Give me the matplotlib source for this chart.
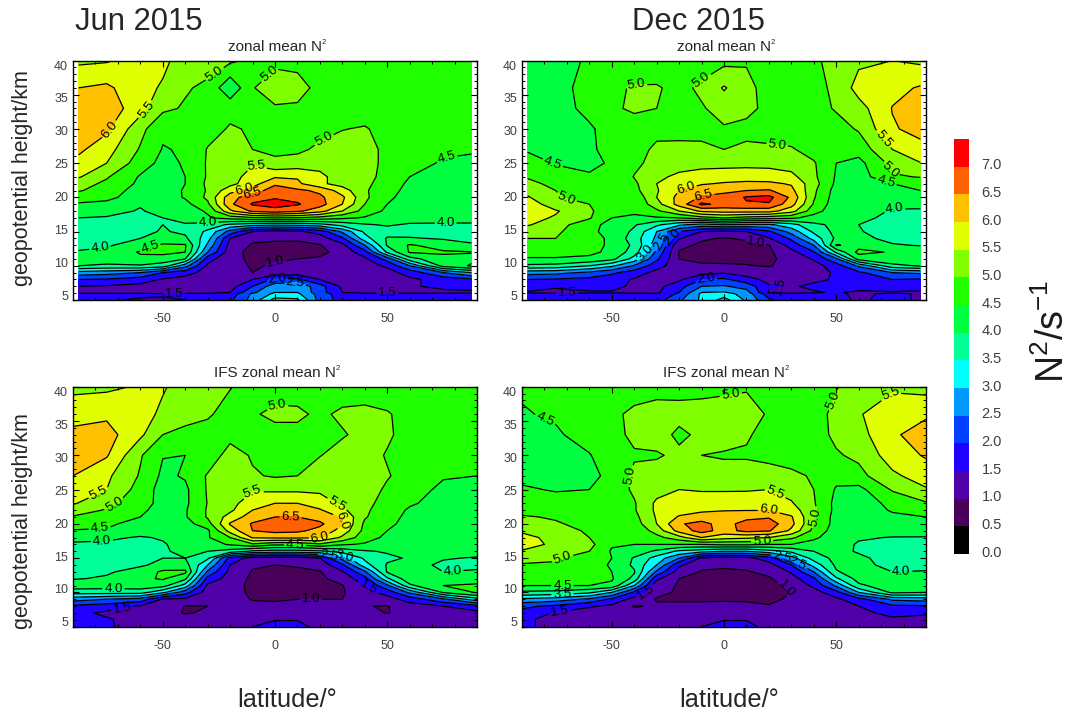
import numpy as np
import matplotlib
matplotlib.use('Agg')
import matplotlib.pyplot as plt
from matplotlib.colors import ListedColormap, BoundaryNorm
from matplotlib.transforms import ScaledTranslation

plt.rcParams['font.family'] = ['Liberation Sans', 'DejaVu Sans']
plt.rcParams['mathtext.fontset'] = 'custom'
plt.rcParams['mathtext.rm'] = 'Liberation Sans'
plt.rcParams['mathtext.default'] = 'rm'
plt.rcParams['axes.unicode_minus'] = False

# grid the fields are read on
lat_obs = [-87.5, -75, -60, -50, -40, -30, -20, -10, 0, 10, 20, 30, 40, 50, 60, 75, 87.5]
lat_ifs = [-90, -75, -60, -50, -40, -30, -20, -10, 0, 10, 20, 30, 40, 50, 60, 75, 90]
heights = [40, 36, 33, 30, 27, 25, 23, 22, 21, 20, 19, 18, 17, 16, 15, 14, 13, 12, 11, 10, 9, 8, 7, 6.1, 5.9, 5]

levels = [0, 0.5, 1, 1.5, 2, 2.5, 3, 3.5, 4, 4.5, 5, 5.5, 6, 6.5, 7, 7.5]
line_levels = [1, 1.5, 2, 2.5, 3, 3.5, 4, 4.5, 5, 5.5, 6, 6.5, 7]
colors = ['#000000', '#48005a', '#5000a8', '#2000ff', '#0040ff', '#0098ff', '#00ffff', '#00ff98',
          '#00ff40', '#20ff00', '#80ff00', '#e0ff00', '#ffc000', '#ff6000', '#ff0000']

jun_obs = [
    [5.4, 5.45, 5.7, 5.6, 5.3, 5.2, 5.1, 4.9, 4.8, 4.8, 4.7, 4.7, 4.6, 4.6, 4.6, 4.6, 4.6],
    [6.0, 6.1, 5.65, 5.45, 5.05, 4.9, 4.1, 4.95, 5.45, 5.25, 4.8, 4.7, 4.7, 4.6, 4.6, 4.6, 4.6],
    [6.3, 6.3, 5.7, 5.1, 4.95, 4.85, 4.85, 4.8, 4.9, 4.9, 4.75, 4.75, 4.7, 4.65, 4.6, 4.6, 4.6],
    [6.4, 6.1, 5.15, 4.6, 4.6, 4.8, 5.05, 4.95, 4.8, 4.8, 4.85, 4.98, 5.05, 4.8, 4.65, 4.55, 4.55],
    [6.1, 5.7, 4.95, 4.47, 4.55, 5.03, 5.2, 5.0, 4.9, 4.9, 5.1, 5.25, 5.15, 4.9, 4.7, 4.55, 4.55],
    [5.85, 5.5, 4.75, 4.35, 4.55, 5.05, 5.3, 5.45, 5.1, 5.2, 5.35, 5.25, 5.15, 4.9, 4.6, 4.47, 4.4],
    [5.55, 5.05, 4.45, 4.3, 4.5, 5.05, 5.3, 5.7, 5.95, 5.95, 5.6, 5.3, 5.15, 4.85, 4.5, 4.3, 4.3],
    [5.2, 4.9, 4.4, 4.3, 4.5, 5.1, 5.35, 5.8, 6.4, 6.1, 5.6, 5.3, 5.1, 4.8, 4.4, 4.25, 4.25],
    [5.05, 4.75, 4.3, 4.25, 4.55, 5.05, 5.8, 6.2, 6.8, 6.6, 6.4, 5.75, 5.05, 4.75, 4.3, 4.2, 4.2],
    [4.7, 4.6, 4.3, 4.2, 4.55, 5.1, 6.3, 6.8, 6.95, 6.85, 6.6, 6.1, 5.1, 4.6, 4.3, 4.2, 4.2],
    [4.45, 4.4, 4.05, 4.2, 4.35, 4.9, 6.4, 7.05, 7.2, 7.05, 6.7, 6.0, 5.0, 4.5, 4.25, 4.15, 4.15],
    [4.2, 4.2, 3.95, 4.2, 4.3, 4.55, 5.9, 6.6, 6.8, 6.6, 6.2, 5.5, 4.8, 4.4, 4.2, 4.15, 4.15],
    [4.0, 3.95, 3.8, 4.0, 4.2, 4.45, 4.7, 4.9, 5.0, 4.95, 4.8, 4.6, 4.45, 4.3, 4.2, 4.15, 4.15],
    [3.8, 3.8, 3.7, 4.0, 3.95, 3.8, 3.4, 3.2, 3.1, 3.15, 3.3, 3.7, 3.95, 4.05, 3.95, 3.95, 3.95],
    [3.75, 3.75, 3.85, 4.05, 3.9, 3.4, 2.3, 1.5, 1.3, 1.4, 1.7, 2.6, 3.6, 3.8, 3.75, 3.75, 3.8],
    [3.8, 3.85, 4.0, 4.1, 4.1, 3.2, 1.5, 1.1, 1.05, 1.05, 1.25, 1.9, 3.3, 4.05, 4.05, 3.95, 3.8],
    [3.85, 3.95, 4.2, 4.6, 4.55, 2.9, 1.3, 0.95, 0.93, 0.92, 0.97, 1.35, 2.5, 4.05, 4.55, 4.3, 4.1],
    [4.05, 4.1, 4.55, 4.65, 4.5, 2.5, 1.2, 0.85, 0.9, 0.9, 0.9, 1.15, 1.8, 3.6, 4.55, 4.55, 4.52],
    [4.2, 4.3, 4.4, 4.25, 4.0, 1.7, 1.15, 0.9, 0.95, 1.0, 1.05, 1.15, 1.4, 2.2, 3.8, 4.4, 4.4],
    [4.0, 3.9, 3.95, 3.8, 2.7, 1.4, 1.2, 0.95, 1.05, 1.1, 1.1, 1.2, 1.25, 1.6, 2.5, 4.2, 4.55],
    [2.8, 2.7, 2.5, 2.0, 1.7, 1.3, 1.2, 1.0, 1.15, 1.2, 1.2, 1.2, 1.25, 1.3, 1.7, 2.5, 3.0],
    [2.0, 1.95, 1.75, 1.45, 1.3, 1.25, 1.2, 1.5, 2.1, 2.1, 1.5, 1.25, 1.25, 1.25, 1.4, 1.7, 1.9],
    [1.5, 1.45, 1.35, 1.3, 1.2, 1.2, 1.3, 2.0, 2.8, 2.9, 2.2, 1.4, 1.2, 1.3, 1.45, 1.6, 1.7],
    [1.35, 1.35, 1.3, 1.3, 1.3, 1.35, 1.5, 2.4, 3.0, 3.0, 2.2, 1.5, 1.4, 1.4, 1.4, 1.4, 1.4],
    [1.6, 1.6, 1.6, 1.55, 1.6, 1.6, 1.7, 2.6, 3.1, 3.1, 2.3, 1.7, 1.6, 1.6, 1.6, 1.6, 1.65],
    [1.6, 1.55, 1.45, 1.45, 1.5, 1.6, 1.9, 2.7, 3.7, 3.6, 2.3, 1.8, 1.6, 1.6, 1.65, 1.5, 1.7],
]

dec_obs = [
    [4.3, 4.35, 4.55, 4.6, 4.6, 4.65, 4.7, 4.75, 4.85, 4.95, 4.85, 4.8, 4.95, 5.1, 5.4, 5.5, 5.4],
    [4.3, 4.4, 4.6, 4.9, 5.05, 5.05, 4.85, 5.1, 5.55, 5.15, 4.8, 4.7, 4.85, 5.1, 5.7, 5.85, 6.05],
    [4.3, 4.35, 4.6, 4.95, 5.05, 5.0, 4.85, 4.95, 5.2, 5.15, 4.85, 4.7, 4.8, 5.05, 5.3, 6.02, 6.2],
    [4.25, 4.3, 4.45, 4.65, 4.85, 4.85, 4.8, 4.85, 4.95, 4.85, 4.75, 4.7, 4.7, 4.8, 5.05, 5.95, 6.15],
    [4.45, 4.35, 4.45, 4.6, 4.8, 5.1, 5.15, 5.1, 5.0, 5.1, 5.1, 5.05, 4.8, 4.6, 4.7, 5.5, 5.85],
    [4.7, 4.47, 4.4, 4.55, 4.9, 5.15, 5.3, 5.35, 5.35, 5.35, 5.35, 5.25, 5.05, 4.5, 4.35, 5.15, 5.48],
    [4.95, 4.7, 4.55, 4.6, 5.02, 5.4, 5.6, 5.7, 5.75, 5.8, 5.75, 5.65, 5.1, 4.45, 4.25, 4.95, 5.02],
    [5.15, 4.85, 4.6, 4.6, 4.9, 5.5, 5.8, 5.95, 6.05, 6.1, 6.1, 5.95, 5.2, 4.4, 4.2, 4.5, 4.75],
    [5.35, 5.0, 4.7, 4.55, 4.85, 5.45, 6.0, 6.3, 6.4, 6.5, 6.55, 6.15, 5.1, 4.3, 4.15, 4.4, 4.5],
    [5.55, 5.05, 4.8, 4.5, 4.6, 5.5, 6.15, 6.55, 6.65, 7.05, 7.15, 6.4, 5.05, 4.25, 4.1, 4.2, 4.3],
    [5.8, 5.2, 5.0, 4.55, 4.55, 5.3, 6.2, 7.1, 6.85, 6.95, 6.95, 6.2, 4.95, 4.2, 4.05, 4.05, 4.1],
    [5.85, 5.55, 5.1, 4.6, 4.55, 4.9, 5.5, 6.1, 6.2, 6.2, 6.2, 5.7, 4.7, 4.2, 4.1, 3.98, 3.95],
    [5.65, 5.45, 5.05, 4.5, 4.45, 4.45, 4.5, 4.8, 5.0, 4.8, 4.7, 4.6, 4.3, 4.2, 4.1, 3.9, 3.85],
    [5.55, 5.2, 4.7, 4.3, 4.05, 3.6, 3.1, 2.8, 3.0, 2.9, 2.9, 3.3, 3.9, 4.1, 4.0, 3.7, 3.7],
    [5.2, 5.1, 4.6, 4.35, 3.9, 3.0, 2.0, 1.5, 1.4, 1.5, 1.9, 2.7, 3.6, 4.15, 4.05, 3.7, 3.7],
    [5.0, 5.0, 4.7, 4.4, 3.75, 2.9, 1.55, 1.05, 0.97, 1.05, 1.45, 2.1, 3.2, 4.1, 4.15, 3.85, 3.85],
    [4.85, 4.85, 4.7, 4.4, 3.9, 2.7, 1.1, 0.93, 0.9, 0.9, 0.98, 1.7, 2.5, 4.55, 4.3, 4.05, 3.97],
    [4.7, 4.7, 4.6, 4.4, 3.75, 2.4, 0.97, 0.9, 0.88, 0.88, 0.92, 1.35, 1.95, 3.6, 4.65, 4.45, 4.3],
    [4.45, 4.45, 4.4, 4.15, 3.3, 2.1, 1.0, 0.92, 0.9, 0.92, 0.92, 1.15, 1.55, 2.4, 4.2, 4.4, 4.5],
    [3.9, 3.85, 3.5, 3.1, 2.45, 1.7, 1.2, 1.05, 1.05, 1.02, 0.97, 1.15, 1.3, 1.75, 2.6, 3.85, 4.05],
    [2.7, 2.65, 2.4, 2.1, 1.75, 1.35, 1.2, 1.3, 1.45, 1.25, 1.2, 1.2, 1.35, 1.55, 1.9, 2.5, 2.6],
    [2.0, 1.95, 1.85, 1.7, 1.45, 1.3, 1.4, 2.0, 2.1, 1.7, 1.35, 1.25, 1.4, 1.55, 1.75, 2.0, 1.95],
    [1.75, 1.55, 1.65, 1.65, 1.4, 1.35, 1.8, 2.5, 2.55, 2.3, 1.55, 1.45, 1.6, 1.7, 1.75, 1.75, 1.65],
    [1.45, 1.4, 1.45, 1.45, 1.4, 1.4, 2.0, 3.0, 3.05, 2.7, 1.45, 1.4, 1.45, 1.55, 1.4, 1.45, 1.45],
    [1.6, 1.6, 1.6, 1.6, 1.6, 1.55, 2.1, 3.1, 3.2, 2.8, 1.7, 1.6, 1.6, 1.6, 1.4, 1.6, 1.45],
    [1.7, 1.7, 1.7, 1.65, 1.7, 1.8, 2.4, 3.1, 3.7, 2.9, 2.1, 1.7, 1.65, 1.6, 1.45, 1.6, 1.45],
]

jun_ifs = [
    [5.35, 5.4, 5.55, 5.55, 5.3, 5.2, 5.02, 4.85, 4.8, 4.75, 4.75, 4.7, 4.7, 4.65, 4.6, 4.6, 4.6],
    [5.85, 5.9, 5.7, 5.4, 5.2, 5.05, 4.85, 4.95, 5.1, 5.1, 4.9, 5.1, 5.15, 5.05, 4.8, 4.65, 4.65],
    [6.1, 6.2, 5.6, 5.0, 4.85, 4.85, 4.85, 4.85, 4.85, 4.85, 4.9, 4.95, 5.15, 5.1, 4.75, 4.6, 4.6],
    [6.25, 6.05, 5.05, 4.52, 4.5, 4.7, 5.2, 4.95, 4.8, 4.85, 4.98, 5.2, 5.25, 4.95, 4.7, 4.55, 4.55],
    [6.0, 5.6, 4.95, 4.4, 4.55, 5.05, 5.2, 5.05, 4.95, 5.0, 5.25, 5.3, 5.3, 5.05, 4.75, 4.52, 4.5],
    [5.75, 5.5, 4.8, 4.3, 4.4, 5.05, 5.25, 5.45, 5.4, 5.4, 5.4, 5.3, 5.3, 4.9, 4.6, 4.45, 4.4],
    [5.55, 5.15, 4.7, 4.35, 4.4, 5.02, 5.35, 5.75, 6.0, 6.0, 5.75, 5.4, 5.15, 4.8, 4.55, 4.35, 4.3],
    [5.3, 4.95, 4.6, 4.3, 4.45, 5.05, 5.4, 6.0, 6.2, 6.25, 6.05, 5.6, 5.1, 4.7, 4.45, 4.3, 4.25],
    [4.95, 4.75, 4.5, 4.25, 4.45, 5.05, 5.7, 6.25, 6.5, 6.5, 6.3, 5.95, 5.05, 4.65, 4.4, 4.2, 4.2],
    [4.7, 4.6, 4.3, 4.2, 4.3, 4.8, 6.05, 6.55, 6.75, 6.8, 6.6, 6.05, 4.9, 4.6, 4.35, 4.2, 4.2],
    [4.47, 4.45, 4.25, 4.2, 4.25, 4.4, 5.7, 6.5, 6.65, 6.6, 6.35, 5.8, 4.85, 4.5, 4.3, 4.2, 4.15],
    [4.1, 4.1, 3.95, 4.05, 4.2, 4.45, 5.0, 6.05, 6.1, 6.1, 6.05, 5.4, 4.7, 4.4, 4.25, 4.15, 4.15],
    [3.95, 3.9, 3.75, 3.95, 4.2, 4.3, 4.55, 4.9, 4.6, 4.6, 4.9, 4.55, 4.45, 4.3, 4.2, 4.15, 4.15],
    [3.8, 3.75, 3.75, 3.95, 4.1, 4.0, 3.8, 3.4, 3.3, 3.3, 3.4, 3.7, 3.95, 4.05, 4.1, 4.1, 4.1],
    [3.75, 3.75, 3.8, 4.0, 4.0, 3.6, 1.8, 1.3, 1.2, 1.25, 1.5, 2.7, 3.6, 3.9, 4.05, 4.02, 3.98],
    [3.75, 3.8, 3.95, 4.1, 4.2, 3.0, 1.5, 1.05, 1.0, 1.05, 1.2, 1.9, 3.3, 4.05, 4.1, 3.95, 3.9],
    [3.85, 3.95, 4.15, 4.6, 4.6, 2.4, 1.35, 0.97, 0.9, 0.9, 0.97, 1.45, 2.4, 4.05, 4.5, 4.0, 4.05],
    [3.97, 4.05, 4.4, 4.55, 4.1, 1.8, 1.3, 0.9, 0.85, 0.85, 0.9, 1.2, 1.8, 3.4, 4.35, 4.25, 4.2],
    [4.3, 4.25, 4.3, 4.2, 3.3, 1.4, 1.25, 0.85, 0.85, 0.85, 0.85, 0.98, 1.5, 2.4, 3.9, 4.5, 4.6],
    [3.7, 3.7, 3.7, 3.1, 2.2, 1.25, 1.25, 0.88, 0.88, 0.88, 0.9, 0.95, 1.3, 1.7, 2.6, 4.05, 4.55],
    [2.7, 2.5, 2.3, 1.45, 1.4, 1.2, 1.2, 0.97, 0.95, 1.0, 1.0, 1.0, 1.1, 1.3, 1.7, 2.4, 3.3],
    [1.9, 1.75, 1.45, 1.3, 0.98, 1.0, 1.2, 1.15, 1.1, 1.1, 1.1, 1.1, 1.02, 0.97, 1.3, 1.5, 1.85],
    [1.65, 1.4, 1.3, 1.15, 0.97, 1.05, 1.2, 1.25, 1.3, 1.3, 1.25, 1.2, 1.15, 0.98, 1.15, 1.3, 1.35],
    [1.7, 1.55, 1.3, 1.25, 1.2, 1.2, 1.25, 1.35, 1.45, 1.45, 1.35, 1.3, 1.3, 1.3, 1.3, 1.3, 1.3],
    [1.7, 1.55, 1.3, 1.25, 1.2, 1.2, 1.25, 1.4, 1.5, 1.5, 1.35, 1.3, 1.3, 1.3, 1.3, 1.3, 1.3],
    [1.7, 1.55, 1.35, 1.3, 1.3, 1.3, 1.35, 1.5, 1.7, 1.65, 1.35, 1.3, 1.3, 1.3, 1.3, 1.3, 1.3],
]

dec_ifs = [
    [4.55, 4.6, 4.7, 4.75, 4.78, 4.82, 4.85, 4.88, 4.9, 4.95, 4.9, 4.85, 4.9, 4.97, 5.3, 5.4, 5.3],
    [4.47, 4.55, 4.7, 4.9, 5.1, 5.2, 5.15, 5.15, 5.2, 5.2, 4.95, 4.75, 4.85, 5.1, 5.45, 5.85, 5.95],
    [4.3, 4.45, 4.65, 4.85, 5.1, 5.2, 4.9, 5.1, 5.2, 5.05, 4.85, 4.7, 4.8, 5.1, 5.3, 5.95, 6.15],
    [4.25, 4.25, 4.48, 4.7, 4.95, 4.95, 5.1, 5.0, 4.95, 4.95, 4.9, 4.8, 4.75, 4.95, 5.1, 5.75, 6.05],
    [4.4, 4.35, 4.4, 4.6, 5.1, 5.2, 5.2, 5.2, 5.2, 5.2, 5.15, 5.1, 4.95, 4.65, 4.85, 5.4, 5.75],
    [4.55, 4.47, 4.5, 4.65, 5.1, 5.3, 5.5, 5.45, 5.45, 5.45, 5.5, 5.3, 5.0, 4.45, 4.35, 5.05, 5.45],
    [4.7, 4.65, 4.6, 4.65, 4.95, 5.6, 5.75, 5.8, 5.8, 5.85, 5.9, 5.55, 5.05, 4.35, 4.2, 4.65, 4.95],
    [4.85, 4.75, 4.65, 4.65, 4.95, 5.6, 5.8, 5.9, 5.97, 5.98, 5.98, 5.75, 5.1, 4.35, 4.2, 4.55, 4.75],
    [5.05, 4.95, 4.7, 4.6, 4.85, 5.55, 6.05, 6.25, 6.25, 6.35, 6.45, 6.05, 5.05, 4.3, 4.15, 4.4, 4.5],
    [5.2, 5.05, 4.85, 4.6, 4.75, 5.5, 6.45, 6.65, 6.3, 6.7, 6.75, 6.15, 5.0, 4.3, 4.1, 4.3, 4.35],
    [5.45, 5.15, 4.95, 4.6, 4.6, 5.2, 6.2, 6.7, 6.3, 6.65, 6.55, 5.9, 4.85, 4.25, 4.05, 4.2, 4.25],
    [5.6, 5.4, 5.0, 4.65, 4.55, 4.85, 5.3, 6.0, 5.7, 5.6, 5.5, 5.1, 4.6, 4.2, 4.05, 3.98, 3.97],
    [5.6, 5.45, 5.15, 4.55, 4.5, 4.5, 4.5, 4.5, 4.6, 4.6, 4.5, 4.5, 4.3, 4.2, 3.95, 3.85, 3.85],
    [5.48, 5.2, 5.0, 4.45, 4.3, 3.9, 3.4, 3.2, 3.0, 3.0, 3.3, 3.6, 4.0, 4.15, 3.95, 3.8, 3.8],
    [5.2, 5.05, 4.8, 4.5, 3.95, 3.3, 2.5, 1.4, 1.25, 1.35, 1.75, 2.8, 3.7, 4.15, 4.1, 3.8, 3.85],
    [4.95, 4.95, 4.7, 4.45, 3.9, 3.0, 1.6, 1.1, 1.05, 1.1, 1.3, 2.0, 3.2, 4.1, 4.15, 3.85, 3.9],
    [4.85, 4.85, 4.65, 4.5, 4.05, 2.4, 1.25, 0.97, 0.95, 0.97, 1.1, 1.55, 2.5, 3.95, 4.25, 4.0, 4.02],
    [4.7, 4.7, 4.6, 4.55, 3.85, 1.6, 1.0, 0.9, 0.9, 0.9, 0.95, 1.3, 1.9, 3.4, 4.2, 4.2, 4.2],
    [4.5, 4.5, 4.5, 4.4, 3.0, 1.15, 0.97, 0.88, 0.85, 0.85, 0.87, 1.1, 1.6, 2.6, 3.9, 4.3, 4.2],
    [3.9, 3.85, 3.6, 3.0, 1.9, 1.1, 0.95, 0.88, 0.88, 0.88, 0.88, 1.0, 1.3, 1.8, 3.0, 4.1, 4.0],
    [2.9, 2.75, 2.4, 1.9, 1.3, 0.97, 0.97, 0.97, 0.98, 0.97, 0.93, 1.05, 1.2, 1.4, 1.8, 2.6, 2.7],
    [2.1, 1.9, 1.55, 1.4, 0.97, 1.05, 1.05, 1.05, 1.05, 1.05, 1.02, 1.15, 1.2, 1.3, 1.5, 1.9, 1.95],
    [1.85, 1.45, 1.3, 1.2, 1.1, 1.15, 1.2, 1.2, 1.2, 1.2, 1.2, 1.2, 1.3, 1.3, 1.4, 1.6, 1.55],
    [1.6, 1.35, 1.25, 1.2, 1.2, 1.2, 1.25, 1.35, 1.45, 1.45, 1.35, 1.3, 1.3, 1.3, 1.35, 1.45, 1.4],
    [1.6, 1.35, 1.25, 1.2, 1.2, 1.2, 1.25, 1.4, 1.5, 1.5, 1.35, 1.25, 1.3, 1.3, 1.35, 1.45, 1.4],
    [1.6, 1.35, 1.25, 1.2, 1.2, 1.25, 1.3, 1.5, 1.6, 1.55, 1.45, 1.25, 1.25, 1.25, 1.25, 1.3, 1.3],
]

# where the contour labels sit, lat/height
labels_a = [(-28, 38.6), (-1.5, 37.6), (-56, 32.3), (-72, 29.5), (21, 29), (76, 27), (-8, 25.3), (-14, 21.3), (-10, 20.4),
            (-78, 12.6), (-56, 13), (76, 15.3), (0, 11), (1, 8.2), (9, 7.4), (50, 7.3), (-45, 5.8), (-30, 16.7)]
labels_b = [(-76, 25.2), (-70, 20.2), (-39, 36.3), (-12, 38.2), (24, 28.5), (71, 28.5), (75, 24.1), (72, 22), (76, 18.3),
            (-17, 21.5), (-9, 20.3), (-24, 14.5), (-28, 13.5), (-34, 11.5), (14, 13.5), (-8, 8.2), (25, 6.7), (-70, 6)]
labels_c = [(1, 37.8), (-78, 24.1), (-72.5, 23.5), (-78, 18.9), (-77, 17.3), (-72, 10.5), (-68, 7.5), (-10, 25.5), (27, 22.5),
            (7, 20.6), (30, 20.5), (20, 18), (9, 17), (24, 15.3), (31, 15.3), (79, 13), (16, 9), (42, 11)]
labels_d = [(3, 38.8), (47, 38.3), (74, 39), (-80, 35), (-42, 27), (23, 24.6), (20, 22.5), (40, 21), (-72, 15),
            (-72, 11.2), (-73, 7), (-33, 9.5), (79, 12.7), (26, 15.2), (33, 14.5), (29, 11), (17, 17.3), (-72, 10)]

panels = [
    (jun_obs, lat_obs, 'zonal mean N', [73, 60.5, 404, 239.5], labels_a),
    (dec_obs, lat_obs, 'zonal mean N', [522, 60.5, 404, 239.5], labels_b),
    (jun_ifs, lat_ifs, 'IFS zonal mean N', [73, 386.7, 404, 240], labels_c),
    (dec_ifs, lat_ifs, 'IFS zonal mean N', [522, 386.7, 404, 240], labels_d),
]

W, H = 1072, 714
dark = '#404040'
cmap = ListedColormap(colors)
norm = BoundaryNorm(levels, cmap.N)


def axes_px(fig, x, y, w, h):
    '''axes from pixel box measured from the top left'''
    return fig.add_axes([x/W, 1-(y+h)/H, w/W, h/H])


fig = plt.figure(figsize=(W/100, H/100), dpi=100)

for i, (field, lats, title, box, label_pos) in enumerate(panels):
    ax = axes_px(fig, *box)
    ax.contourf(lats, heights, np.array(field), levels=levels, cmap=cmap, norm=norm)
    cs = ax.contour(lats, heights, np.array(field), levels=line_levels, colors='k', linewidths=0.9)
    ax.clabel(cs, manual=label_pos, fmt='%.1f', fontsize=9.5, inline=True, inline_spacing=2)
    ax.set_xlim(-90, 90)
    ax.set_ylim(5, 40)
    ax.set_xticks([-50, 0, 50])
    ax.set_xticks(np.arange(-90, 91, 10), minor=True)
    ax.set_yticks([5, 10, 15, 20, 25, 30, 35, 40])
    ax.set_yticks(np.arange(5, 41, 1), minor=True)
    ax.tick_params(which='major', direction='in', top=True, right=True, length=4, width=0.8)
    ax.tick_params(which='minor', direction='in', top=True, right=True, length=2, width=0.7)
    ax.tick_params(axis='x', which='major', pad=9.5, labelsize=9, labelcolor=dark)
    ax.set_yticklabels([])
    # labels do not sit quite on their ticks in the original
    for v in [5, 10, 15, 20, 25, 30, 35, 40]:
        ax.text(-0.012, (0.48 + (v-5)*0.961)/35, str(v), transform=ax.transAxes, ha='right', va='center',
                fontsize=9, color=dark)
    t = ax.text(0.5, 1.058, title, transform=ax.transAxes, ha='center', va='center', fontsize=11, color='#262626')
    ax.annotate('2', xy=(1, 0.8), xycoords=t, fontsize=5.5, ha='left', va='center', color='#262626')
    for s in ax.spines.values():
        s.set_linewidth(1.0)

fig.text(75/W, 1-22/H, 'Jun 2015', fontsize=22.3, va='center', color='#262626')
fig.text(632/W, 1-22/H, 'Dec 2015', fontsize=22.3, va='center', color='#262626')
fig.text(23/W, 1-178/H, 'geopotential height/km', rotation=90, fontsize=15.5, ha='center', va='center', color='#262626')
fig.text(23/W, 1-521/H, 'geopotential height/km', rotation=90, fontsize=15.5, ha='center', va='center', color='#262626')
fig.text(287/W, 1-700/H, 'latitude/°', fontsize=18.3, ha='center', va='center', color='#262626')
fig.text(729/W, 1-700/H, 'latitude/°', fontsize=18.3, ha='center', va='center', color='#262626')

cax = axes_px(fig, 954, 139, 15, 415)
sm = plt.cm.ScalarMappable(norm=norm, cmap=cmap)
cb = fig.colorbar(sm, cax=cax, ticks=levels[:-1], spacing='proportional')
cb.outline.set_visible(False)
cb.ax.minorticks_off()
cb.ax.tick_params(length=0, pad=9, labelsize=10.5, labelcolor=dark)
cb.ax.set_yticklabels(['%.1f' % v for v in levels[:-1]])
for t in cb.ax.get_yticklabels():
    t.set_transform(t.get_transform() + ScaledTranslation(0, 2/72, fig.dpi_scale_trans))
fig.text(1053/W, 1-331/H, r'N$^{2}$/s$^{-1}$', rotation=90, fontsize=27, ha='center', va='center', color='#1a1a1a')

fig.savefig('out.png', dpi=100)
